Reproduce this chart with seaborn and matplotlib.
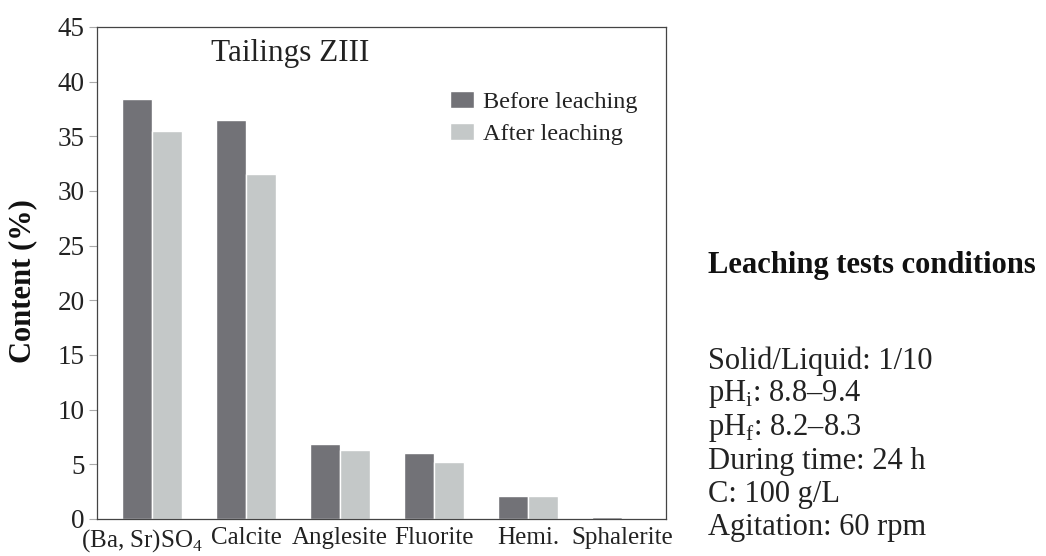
import pandas as pd
import matplotlib.pyplot as plt
import matplotlib.transforms as mtransforms
import seaborn as sns

minerals = ['(Ba, Sr)SO$_4$', 'Calcite', 'Anglesite', 'Fluorite', 'Hemi.', 'Sphalerite']
before_leaching = [38.4, 36.5, 6.9, 6.0, 2.1, 0.15]
after_leaching = [35.5, 31.6, 6.3, 5.2, 2.1, 0.05]
series_names = ['Before leaching', 'After leaching']
y_ticks = [0, 5, 10, 15, 20, 25, 30, 35, 40, 45]
conditions = [
    'Solid/Liquid: 1/10',
    'pH$_\\mathregular{i}$: 8.8–9.4',
    'pH$_\\mathregular{f}$: 8.2–8.3',
    'During time: 24 h',
    'C: 100 g/L',
    'Agitation: 60 rpm',
]

df = pd.DataFrame({
    'mineral': minerals * 2,
    'content': before_leaching + after_leaching,
    'stage': [series_names[0]] * len(minerals) + [series_names[1]] * len(minerals),
})

sns.set_style('white')
plt.rcParams['font.family'] = ['Liberation Serif', 'DejaVu Serif']
plt.rcParams['mathtext.fontset'] = 'custom'
plt.rcParams['mathtext.rm'] = 'Liberation Serif'

fig = plt.figure(figsize=(10.46, 5.56), dpi=100)
ax = fig.add_axes([97 / 1046, 1 - 519 / 556, (666 - 97) / 1046, (519 - 27) / 556])

palette = {series_names[0]: '#727277', series_names[1]: '#c4c8c8'}
sns.barplot(data=df, x='mineral', y='content', hue='stage', palette=palette,
            width=0.64, saturation=1, ax=ax, order=minerals)

ax.set_xlim(-0.585, 5.47)
ax.set_ylim(0, 45)
ax.set_yticks(y_ticks)
ax.tick_params(axis='y', labelsize=19.5, length=6, width=0.8, color='#aaaaaa',
               labelcolor='#222222', direction='out', pad=3, left=True)
ax.tick_params(axis='x', labelsize=18, length=0, pad=6, labelcolor='#222222')
ax.set_xlabel('')
ax.set_ylabel('Content (%)', fontsize=22, fontweight='bold', color='#111111')
ax.yaxis.set_label_coords(-0.105, 0.484)
for spine in ax.spines.values():
    spine.set_color('#444444')
    spine.set_linewidth(0.9)

# first label sits a bit left of its group in the original
first = ax.get_xticklabels()[0]
first.set_transform(first.get_transform() +
                    mtransforms.ScaledTranslation(-7 / 72, 0, fig.dpi_scale_trans))

ax.text(0.339, 0.947, 'Tailings ZIII', transform=ax.transAxes, fontsize=22.5,
        ha='center', va='center', color='#222222')

leg = ax.legend(loc='upper left', bbox_to_anchor=(0.603, 0.89), frameon=False,
                fontsize=17.5, handlelength=1.0, handleheight=0.7,
                handletextpad=0.35, labelspacing=0.4, borderaxespad=0)
for t in leg.get_texts():
    t.set_color('#222222')

fig.text(708 / 1046, 1 - 266 / 556, 'Leaching tests conditions', fontsize=22,
         fontweight='bold', ha='left', va='center', color='#111111')
for i, line in enumerate(conditions):
    fig.text(708 / 1046, 1 - (361 + i * 33.4) / 556, line, fontsize=22,
             ha='left', va='center', color='#222222')

fig.savefig('out.png', dpi=100)
